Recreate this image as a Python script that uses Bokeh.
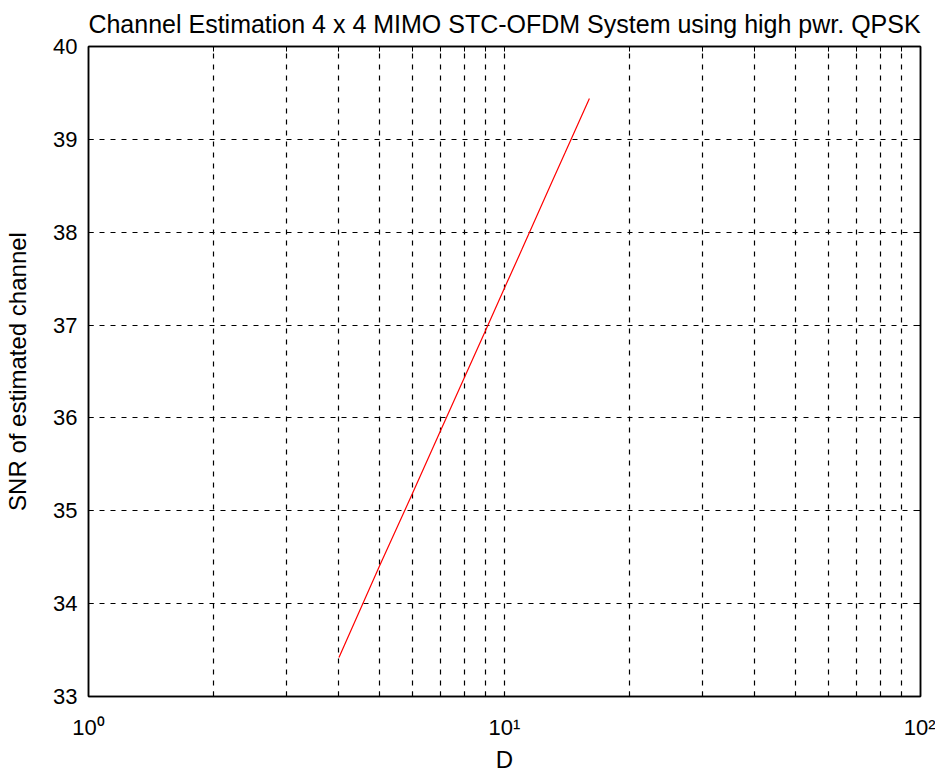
from bokeh.plotting import figure
from bokeh.models import FixedTicker, CustomJSTickFormatter, Range1d, LinearAxis, LogAxis
from bokeh.embed import file_html
from bokeh.resources import INLINE

# Data
D = [4, 5, 6, 7, 8, 9, 10, 11, 12, 13, 14, 15, 16]
snr = [33.42, 34.40, 35.18, 35.85, 36.43, 36.94, 37.40, 37.81, 38.19, 38.54, 38.86, 39.16, 39.44]

x_major = [1, 10, 100]
x_minor = [2, 3, 4, 5, 6, 7, 8, 9, 20, 30, 40, 50, 60, 70, 80, 90]
y_ticks = [33, 34, 35, 36, 37, 38, 39, 40]

title_text = "Channel Estimation 4 x 4 MIMO STC-OFDM System using high pwr. QPSK"
x_label = "D"
y_label = "SNR of estimated channel"

FONT = "Liberation Sans"

p = figure(width=935, height=766, x_axis_type="log",
           x_range=Range1d(1, 100), y_range=Range1d(33, 40),
           output_backend="svg", toolbar_location=None,
           min_border_left=88, min_border_right=15, min_border_top=46, min_border_bottom=70,
           frame_width=832, frame_height=650)

p.title.text = title_text
p.title.align = "center"
p.title.vertical_align = "top"
p.title.text_font = FONT
p.title.text_font_size = "25px"
p.title.text_font_style = "normal"
p.title.text_color = "black"
p.title.standoff = 14
p.title.offset = 0

p.line(D, snr, line_color="red", line_width=1.2)

xt = FixedTicker(ticks=x_major, minor_ticks=x_minor)
yt = FixedTicker(ticks=y_ticks)

fmt = CustomJSTickFormatter(code="""
const e = Math.round(Math.log10(tick));
const sup = {'0':'\u2070','1':'\u00b9','2':'\u00b2','3':'\u00b3'};
return '10' + String(e).split('').map(c => sup[c] || c).join('');
""")

for ax in p.xaxis:
    ax.ticker = xt
    ax.formatter = fmt
for ax in p.yaxis:
    ax.ticker = yt

def style_axis(ax, labels=True):
    ax.axis_line_color = "black"
    ax.axis_line_width = 1.5
    ax.major_tick_in = 5
    ax.major_tick_out = 0
    ax.minor_tick_in = 5
    ax.minor_tick_out = 0
    ax.major_tick_line_color = "black"
    ax.minor_tick_line_color = "black"
    ax.major_label_text_font = FONT
    ax.major_label_text_font_size = "22px"
    ax.major_label_text_color = "black"
    ax.axis_label_text_font = FONT
    ax.axis_label_text_font_size = "24px"
    ax.axis_label_text_font_style = "normal"
    ax.axis_label_text_color = "black"
    if not labels:
        ax.major_label_text_font_size = "0px"
        ax.major_label_text_alpha = 0

style_axis(p.xaxis[0])
style_axis(p.yaxis[0])
p.xaxis[0].axis_label = x_label
p.yaxis[0].axis_label = y_label
p.xaxis[0].major_label_standoff = 18
p.yaxis[0].major_label_standoff = 11
p.xaxis[0].axis_label_standoff = 3
p.yaxis[0].axis_label_standoff = 19

top = LogAxis(ticker=xt, major_label_text_font_size="0px")
style_axis(top, labels=False)
p.add_layout(top, "above")
right = LinearAxis(ticker=yt, major_label_text_font_size="0px")
style_axis(right, labels=False)
p.add_layout(right, "right")

for g in p.xgrid:
    g.ticker = xt
    g.grid_line_color = "black"
    g.grid_line_dash = "5 6"
    g.grid_line_width = 1.2
    g.minor_grid_line_color = "black"
    g.minor_grid_line_dash = "5 6"
    g.minor_grid_line_width = 1.2
for g in p.ygrid:
    g.ticker = yt
    g.grid_line_color = "black"
    g.grid_line_dash = "5 6"
    g.grid_line_width = 1.2

p.outline_line_color = "black"
p.outline_line_width = 1.5
p.background_fill_color = "white"
p.border_fill_color = "white"

open("out.html", "w").write(file_html(p, INLINE))
